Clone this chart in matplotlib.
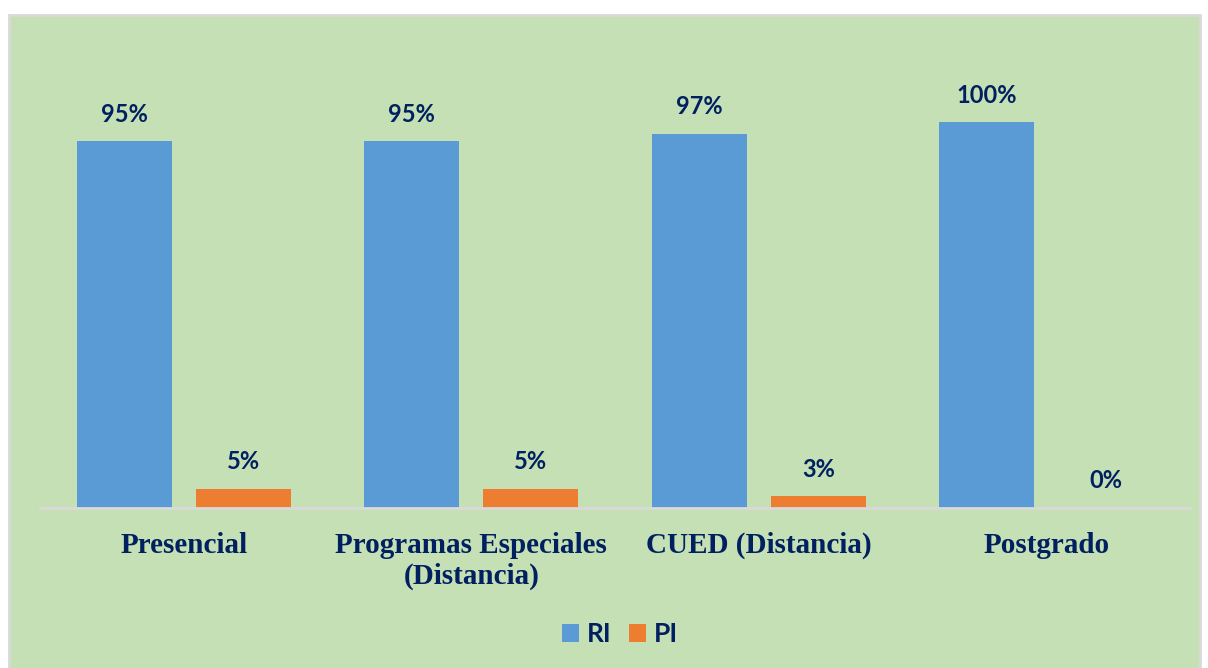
import matplotlib.pyplot as plt
from matplotlib.patches import Rectangle
import numpy as np

# data
categories = ['Presencial', 'Programas Especiales\n(Distancia)', 'CUED (Distancia)', 'Postgrado']
ri = [95, 95, 97, 100]
pi = [5, 5, 3, 0]

navy = '#002060'
blue = '#5B9BD5'
orange = '#ED7D31'
green = '#C5E0B4'

fig = plt.figure(figsize=(12.08, 6.68), dpi=100)
fig.patch.set_facecolor('white')

# green chart area with a gray frame (behind the axes)
fig.patches.append(Rectangle((9/1208, -0.01), 1191/1208, (668-15)/668 + 0.01,
                             transform=fig.transFigure, facecolor=green,
                             edgecolor='#D9D9D9', linewidth=2, zorder=-5))

ax = fig.add_axes([40/1208, (668-508)/668, 1150/1208, (508-45)/668])
ax.set_facecolor('none')
ax.set_zorder(2)

x = np.arange(len(categories))
w = 0.33
off = 0.207
b1 = ax.bar(x - off, ri, w, color=blue, label='RI', zorder=2)
b2 = ax.bar(x + off, pi, w, color=orange, label='PI', zorder=2)

for bars, vals in [(b1, ri), (b2, pi)]:
    for r, v in zip(bars, vals):
        ax.text(r.get_x() + r.get_width()/2, v + 7, '%d%%' % v, ha='center', va='center',
                fontsize=17, fontweight='bold', color=navy, family='Lato')

ax.set_xlim(-0.5, 3.5)
ax.set_ylim(0, 120)
ax.set_yticks([])
ax.set_xticks(x)
ax.set_xticklabels(categories, fontsize=21, fontweight='bold', color=navy,
                   family='Liberation Serif', linespacing=1.2, va='top')
ax.tick_params(axis='x', length=0, pad=17)
for s in ['top', 'left', 'right']:
    ax.spines[s].set_visible(False)
ax.spines['bottom'].set_color('#D9D9D9')
ax.spines['bottom'].set_linewidth(2)

leg = fig.legend(loc='center', bbox_to_anchor=(620/1208, (668-634)/668), ncol=2,
                 frameon=False, handlelength=0.65, handleheight=0.65, handletextpad=0.3,
                 columnspacing=0.65, prop={'family': 'Lato', 'weight': 'bold', 'size': 19})
for t in leg.get_texts():
    t.set_color(navy)

plt.savefig('out.png', dpi=100, facecolor=fig.get_facecolor())
